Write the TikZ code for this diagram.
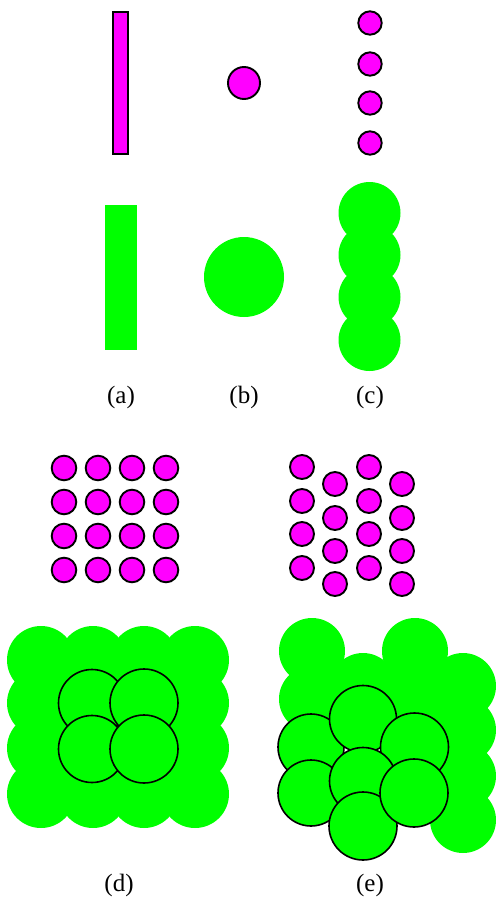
\documentclass[tikz,border=0pt]{standalone}
\usepackage{fontspec}
\setmainfont{Liberation Serif}
\definecolor{mag}{RGB}{255,0,255}
\definecolor{grn}{RGB}{0,255,0}
\begin{document}
\begin{tikzpicture}[x=1pt,y=-1pt,
  magdot/.style={fill=mag,draw=black,line width=1.9pt},
  grnblob/.style={fill=grn},
  grnring/.style={fill=grn,draw=black,line width=1.6pt},
  lab/.style={font=\fontsize{25}{29}\selectfont,inner sep=0pt}]
\useasboundingbox (0,0) rectangle (496,900);
% ---- (a)
\draw[magdot] (113,12) rectangle (128,154);
\fill[grn] (105,205) rectangle (137,350);
% ---- (b)
\draw[magdot] (244,83) circle (16);
\fill[grn] (244,277) circle (40);
% ---- (c)
\foreach \y in {23,64,103,143} \draw[magdot] (370,\y) circle (11.7);
\foreach \y in {213,255,297,340} \fill[grn] (369.5,\y) circle (31);
% labels
\node[lab] (la) at (121,397) {(a)};
\node[lab] (lb) at (244,397) {(b)};
\node[lab] (lc) at (370,397) {(c)};
% ---- (d) magenta grid
\foreach \x in {64,98,132,166}
  \foreach \y in {468,502,536,570}
    \draw[magdot] (\x,\y) circle (12.3);
% ---- (e) magenta staggered
\foreach \x in {302,369}
  \foreach \y in {467,501,534,568}
    \draw[magdot] (\x,\y) circle (12);
\foreach \x in {335,402}
  \foreach \y in {484,518,551,584}
    \draw[magdot] (\x,\y) circle (12);
% ---- (d) green
\foreach \x in {41,93,144,195}
  \foreach \y in {660,703,748,794}
    \fill[grn] (\x,\y) circle (34);
\draw[grnring] (92,703) circle (33.5);
\draw[grnring] (144,703) circle (34);
\draw[grnring] (92,749) circle (33.5);
\draw[grnring] (144,749) circle (34);
% ---- (e) green
\foreach \y in {651,699} \fill[grn] (312,\y) circle (33);
\foreach \y in {686} \fill[grn] (363,\y) circle (33);
\foreach \y in {651,699} \fill[grn] (415,\y) circle (33);
\foreach \y in {686,730,776,820} \fill[grn] (463,\y) circle (33);
\draw[grnring] (311,747) circle (33);
\draw[grnring] (363,719) circle (33.5);
\draw[grnring] (414.5,747) circle (34);
\draw[grnring] (311,793) circle (33);
\draw[grnring] (363,781) circle (33.5);
\draw[grnring] (363,826) circle (34);
\draw[grnring] (414,793) circle (34);
% labels
\node[lab] (ld) at (119,885) {(d)};
\node[lab] (le) at (370,885) {(e)};
\end{tikzpicture}
\end{document}
